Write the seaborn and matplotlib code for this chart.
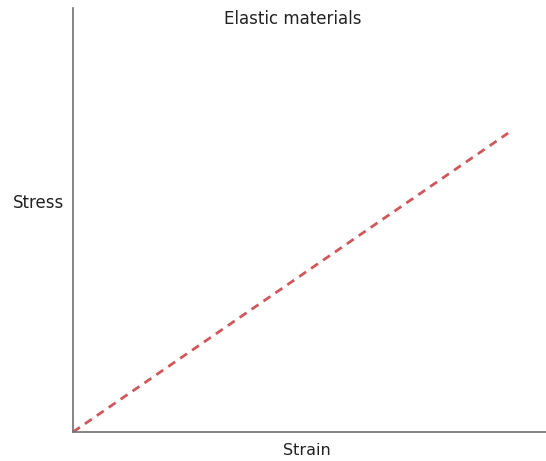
import matplotlib
matplotlib.use("Agg")
import matplotlib.pyplot as plt
import seaborn as sns
import pandas as pd

# strain vs stress for an elastic material (linear)
strain = [0.0, 0.92]
stress = [0.0, 0.705]

df = pd.DataFrame({"Strain": strain, "Stress": stress})

sns.set_theme(style="white")
plt.rcParams['font.family'] = ['DejaVu Sans']

fig = plt.figure(figsize=(5.46, 4.61), dpi=100)
ax = fig.add_axes([73 / 546, 1 - 432 / 461, 473 / 546, 424 / 461])

sns.lineplot(data=df, x="Strain", y="Stress", ax=ax, color="#d0575a",
             linestyle=(0, (3, 2.2)), linewidth=2)

ax.set_xlim(0, 1)
ax.set_ylim(0, 1)
ax.set_xticks([])
ax.set_yticks([])
ax.set_xlabel("")
ax.set_ylabel("")
for s in ["top", "right"]:
    ax.spines[s].set_visible(False)
for s in ["left", "bottom"]:
    ax.spines[s].set_color("#707070")
    ax.spines[s].set_linewidth(1.2)

fig.text(293 / 546, 1 - 19 / 461, "Elastic materials", ha="center", va="center",
         fontsize=12, color="#222222")
fig.text(38 / 546, 1 - 203 / 461, "Stress", ha="center", va="center",
         fontsize=12, color="#222222")
fig.text(307 / 546, 1 - 450 / 461, "Strain", ha="center", va="center",
         fontsize=11.5, color="#222222")

fig.savefig("out.png", dpi=100)
